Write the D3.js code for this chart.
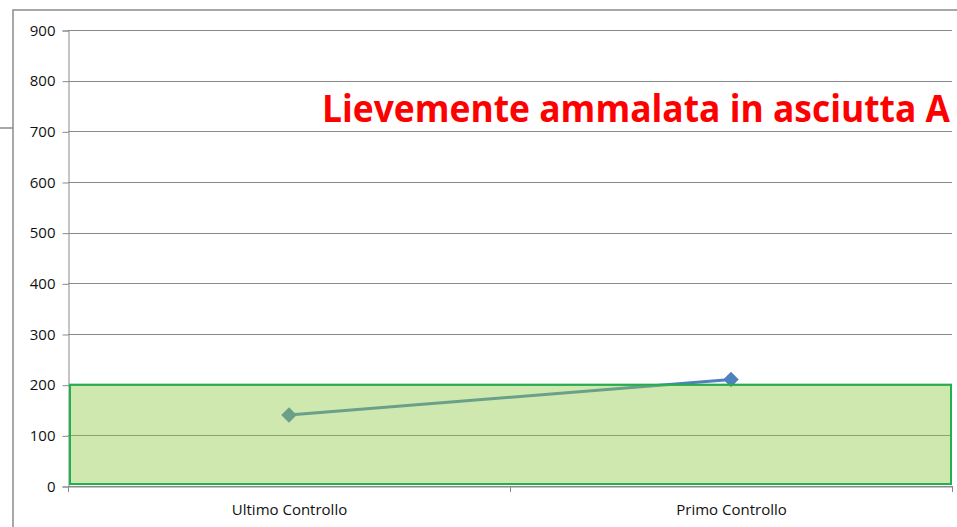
<!DOCTYPE html>
<html>
<head>
<meta charset="utf-8">
<script src="https://cdn.jsdelivr.net/npm/d3@7"></script>
<style>
  body { margin: 0; background: #fff; }
  svg { display: block; }
</style>
</head>
<body>
<div id="chart"></div>
<script>
// dati
const categorie = ['Ultimo Controllo', 'Primo Controllo'];
const valori = [140, 210];
const fasciaMin = [0, 0];
const fasciaMax = [200, 200];
const tickY = [0, 100, 200, 300, 400, 500, 600, 700, 800, 900];
const titolo = 'Lievemente ammalata in asciutta A';

const width = 957, height = 527;
const margin = { top: 30, right: 5, bottom: 41, left: 68 };

const svg = d3.select('#chart').append('svg')
  .attr('width', width)
  .attr('height', height);

// cornice esterna
svg.append('path')
  .attr('d', `M13,${height} L13,10 L${width},10 M0,128 L13,128`)
  .attr('fill', 'none')
  .attr('stroke', '#8c8c8c')
  .attr('stroke-width', 1.5);

const x = d3.scaleBand()
  .domain(categorie)
  .range([margin.left, width - margin.right]);

const y = d3.scaleLinear()
  .domain([0, 900])
  .range([height - margin.bottom, margin.top]);

// griglia
svg.append('g')
  .selectAll('line')
  .data(tickY)
  .enter().append('line')
  .attr('x1', margin.left)
  .attr('x2', width - margin.right)
  .attr('y1', d => Math.round(y(d)) + 0.5)
  .attr('y2', d => Math.round(y(d)) + 0.5)
  .attr('stroke', '#8a8a8a')
  .attr('stroke-width', 1);

// asse Y
const yAxis = svg.append('g')
  .attr('transform', `translate(${margin.left + 0.5},0.5)`)
  .call(d3.axisLeft(y).tickValues(tickY).tickSize(6).tickPadding(7).tickFormat(d3.format('d')));
yAxis.select('.domain').attr('stroke', '#8a8a8a');
yAxis.selectAll('.tick line').attr('stroke', '#8a8a8a');
yAxis.selectAll('text')
  .style('font-family', 'Open Sans, sans-serif')
  .style('font-size', '15px')
  .attr('fill', '#111');

// asse X
const xAxis = svg.append('g')
  .attr('transform', `translate(0.5,${Math.round(y(0)) + 0.5})`)
  .call(d3.axisBottom(x).tickSize(0).tickPadding(18));
xAxis.select('.domain').attr('stroke', '#8a8a8a');
xAxis.selectAll('text')
  .style('font-family', 'Open Sans, sans-serif')
  .style('font-size', '15px')
  .attr('fill', '#111');

// tacche fra le categorie
const bordi = categorie.map(c => x(c)).concat([x(categorie[categorie.length - 1]) + x.bandwidth()]);
svg.append('g')
  .selectAll('line')
  .data(bordi)
  .enter().append('line')
  .attr('x1', d => Math.round(d) + 0.5)
  .attr('x2', d => Math.round(d) + 0.5)
  .attr('y1', y(0))
  .attr('y2', y(0) + 6)
  .attr('stroke', '#8a8a8a');

// serie
const linea = d3.line()
  .x((d, i) => x(categorie[i]) + x.bandwidth() / 2)
  .y(d => y(d));

svg.append('path')
  .datum(valori)
  .attr('d', linea)
  .attr('fill', 'none')
  .attr('stroke', '#4f81bd')
  .attr('stroke-width', 3);

svg.append('g')
  .selectAll('path')
  .data(valori)
  .enter().append('path')
  .attr('d', d3.symbol().type(d3.symbolSquare).size(120))
  .attr('transform', (d, i) => `translate(${x(categorie[i]) + x.bandwidth() / 2},${y(d)}) rotate(45)`)
  .attr('fill', '#4f81bd');

// fascia verde semitrasparente
const x0 = x(categorie[0]);
const x1 = x(categorie[categorie.length - 1]) + x.bandwidth();
svg.append('rect')
  .attr('x', x0 + 2)
  .attr('y', y(d3.max(fasciaMax)))
  .attr('width', x1 - x0 - 3)
  .attr('height', y(d3.min(fasciaMin)) - y(d3.max(fasciaMax)) - 2)
  .attr('fill', '#8ec946')
  .attr('fill-opacity', 0.43)
  .attr('stroke', '#1fb050')
  .attr('stroke-width', 2);

// titolo
svg.append('text')
  .attr('x', 950)
  .attr('y', 122)
  .attr('text-anchor', 'end')
  .attr('textLength', 628)
  .attr('lengthAdjust', 'spacingAndGlyphs')
  .style('font-family', 'Open Sans, sans-serif')
  .style('font-weight', 'bold')
  .style('font-size', '38px')
  .attr('fill', '#ff0000')
  .text(titolo);
</script>
</body>
</html>
